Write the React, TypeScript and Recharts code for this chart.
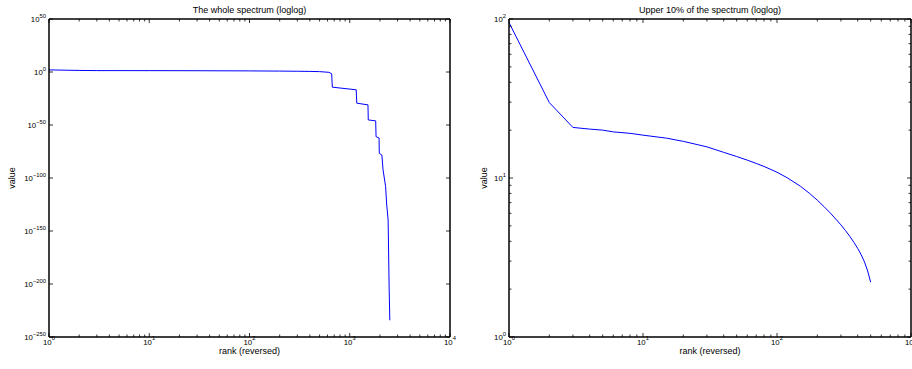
import { LineChart, Line, XAxis, YAxis } from "recharts";

const FONT = "'Liberation Sans', Arial, Helvetica, sans-serif";
const BLUE = "#0000ff";

// whole spectrum (rank -> value)
const wholeRanks = [1, 2, 3, 5, 10, 30, 100, 200, 300, 400, 500, 620, 660, 670, 1160, 1175, 1520, 1530, 1815, 1830, 1960, 1970, 2090, 2150, 2280, 2330, 2415, 2470, 2510];
const wholeValues = [95, 30, 21, 20, 18.6, 15.7, 10.9, 7.2, 5.1, 3.6, 2.2, 0.5, 0.02, 5e-15, 1.6e-17, 4e-30, 1e-31, 6e-46, 8e-47, 1e-61, 6e-63, 2e-77, 5e-79, 4e-93, 6e-109, 2.5e-124, 2e-140, 2e-203, 6e-235];

// upper 10% of the spectrum
const upperRanks = [1, 2, 3, 4, 5, 6, 8, 10, 15, 20, 30, 40, 50, 60, 70, 80, 90, 100, 120, 150, 175, 200, 225, 250, 275, 300, 325, 350, 375, 400, 425, 450, 475, 500];
const upperValues = [95, 29.8, 20.8, 20.3, 20.0, 19.5, 19.1, 18.6, 17.8, 17.0, 15.7, 14.5, 13.65, 12.95, 12.35, 11.82, 11.32, 10.87, 10.0, 8.86, 8.0, 7.25, 6.59, 6.02, 5.51, 5.07, 4.66, 4.29, 3.94, 3.61, 3.29, 2.96, 2.6, 2.21];

// axis ticks
const wholeXDecades = [1, 10, 100, 1000, 10000];
const wholeYTicks = [1e-250, 1e-200, 1e-150, 1e-100, 1e-50, 1, 1e50];
const upperXDecades = [1, 10, 100, 1000];
const upperYDecades = [1, 10, 100];
const minorSteps = [2, 3, 4, 5, 6, 7, 8, 9];

const withMinor = (decades: number[]) => {
  const out: number[] = [];
  decades.forEach((d, i) => {
    out.push(d);
    if (i < decades.length - 1) minorSteps.forEach((m) => out.push(d * m));
  });
  return out;
};

const isMajor = (v: number) => {
  const l = Math.log10(v);
  return Math.abs(l - Math.round(l)) < 1e-6;
};

const expText = (v: number) => {
  const e = Math.round(Math.log10(v));
  return e < 0 ? `\u2212${-e}` : `${e}`;
};

type Side = "bottom" | "top" | "left" | "right";

const makeTick = (side: Side, labelled: boolean) => (props: any) => {
  const { x, y, payload } = props;
  const v = payload.value;
  const major = isMajor(v);
  const len = major ? 4 : 2.5;
  let x2 = x;
  let y2 = y;
  if (side === "bottom") y2 = y - len;
  if (side === "top") y2 = y + len;
  if (side === "left") x2 = x + len;
  if (side === "right") x2 = x - len;
  return (
    <g>
      <line x1={x} y1={y} x2={x2} y2={y2} stroke="#000" strokeWidth={0.8} />
      {labelled && major && side === "bottom" && (
        <text x={x} y={y + 7.5} textAnchor="middle" fontSize={7.8} fontFamily={FONT} fill="#000">
          10<tspan dy={-5} fontSize={5.8}>{expText(v)}</tspan>
        </text>
      )}
      {labelled && major && side === "left" && (
        <text x={x - 3} y={y + 3} textAnchor="end" fontSize={7.8} fontFamily={FONT} fill="#000">
          10<tspan dy={-4.5} fontSize={5.8}>{expText(v)}</tspan>
        </text>
      )}
    </g>
  );
};

const axisLine = { stroke: "#000", strokeWidth: 1.5 };

function Panel(props: {
  data: { rank: number; value: number }[];
  xDomain: [number, number];
  xTicks: number[];
  yDomain: [number, number];
  yTicks: number[];
  title: string;
  margin: { top: number; right: number; bottom: number; left: number };
  yLabelGap: number;
}) {
  const { data, xDomain, xTicks, yDomain, yTicks, title, margin, yLabelGap } = props;
  const common = { type: "number" as const, scale: "log" as const, allowDataOverflow: true, interval: 0 as const, tickSize: 0, tickMargin: 0, tickLine: false, axisLine };
  const plotLeft = margin.left + 40;
  const plotWidth = 456 - plotLeft - margin.right - 1;
  return (
    <div style={{ position: "relative", width: 456, height: 369 }}>
      <div
        style={{
          position: "absolute",
          left: plotLeft,
          width: plotWidth,
          top: 3.6,
          textAlign: "center",
          fontFamily: FONT,
          fontSize: 9,
          lineHeight: "12px",
          color: "#000",
          whiteSpace: "nowrap",
          zIndex: 2,
        }}
      >
        {title}
      </div>
      <LineChart width={456} height={369} data={data} margin={margin}>
        <XAxis
          {...common}
          xAxisId="b"
          orientation="bottom"
          dataKey="rank"
          domain={xDomain}
          ticks={xTicks}
          height={20}
          tick={makeTick("bottom", true)}
          label={{
            position: "insideBottom",
            content: ({ viewBox }: any) => (
              <text x={viewBox.x + viewBox.width / 2} y={viewBox.y + 16.5} textAnchor="middle" fontSize={9} fontFamily={FONT} fill="#000">
                rank (reversed)
              </text>
            ),
          }}
        />
        <XAxis
          {...common}
          xAxisId="t"
          orientation="top"
          dataKey="rank"
          domain={xDomain}
          ticks={xTicks}
          height={1}
          tick={makeTick("top", false)}
        />
        <YAxis
          {...common}
          yAxisId="l"
          orientation="left"
          dataKey="value"
          domain={yDomain}
          ticks={yTicks}
          width={40}
          tick={makeTick("left", true)}
          label={{
            position: "insideLeft",
            content: ({ viewBox }: any) => {
              const cx = viewBox.x + viewBox.width - yLabelGap;
              const cy = viewBox.y + viewBox.height / 2;
              return (
                <text x={cx} y={cy} transform={`rotate(-90 ${cx} ${cy})`} textAnchor="middle" fontSize={9} fontFamily={FONT} fill="#000">
                  value
                </text>
              );
            },
          }}
        />
        <YAxis
          {...common}
          yAxisId="r"
          orientation="right"
          dataKey="value"
          domain={yDomain}
          ticks={yTicks}
          width={1}
          tick={makeTick("right", false)}
        />
        <Line xAxisId="t" yAxisId="r" dataKey="value" stroke="none" dot={false} isAnimationActive={false} />
        <Line xAxisId="b" yAxisId="l" type="linear" dataKey="value" stroke={BLUE} strokeWidth={1} dot={false} isAnimationActive={false} />
      </LineChart>
    </div>
  );
}

export default function App() {
  const wholeData = wholeRanks.map((r, i) => ({ rank: r, value: wholeValues[i] }));
  const upperData = upperRanks.map((r, i) => ({ rank: r, value: upperValues[i] }));
  return (
    <div style={{ position: "absolute", left: 0, top: 0, width: 912, height: 369, background: "#fff", overflow: "hidden" }}>
      <div style={{ position: "absolute", left: 0, top: 0 }}>
        <Panel
          data={wholeData}
          xDomain={[1, 10000]}
          xTicks={withMinor(wholeXDecades)}
          yDomain={[1e-250, 1e50]}
          yTicks={wholeYTicks}
          title="The whole spectrum (loglog)"
          margin={{ top: 18, right: 5, bottom: 12, left: 9 }}
          yLabelGap={34.5}
        />
      </div>
      <div style={{ position: "absolute", left: 456, top: 0 }}>
        <Panel
          data={upperData}
          xDomain={[1, 1000]}
          xTicks={withMinor(upperXDecades)}
          yDomain={[1, 100]}
          yTicks={withMinor(upperYDecades)}
          title="Upper 10% of the spectrum (loglog)"
          margin={{ top: 18, right: 0, bottom: 12, left: 13 }}
          yLabelGap={22.5}
        />
      </div>
    </div>
  );
}
